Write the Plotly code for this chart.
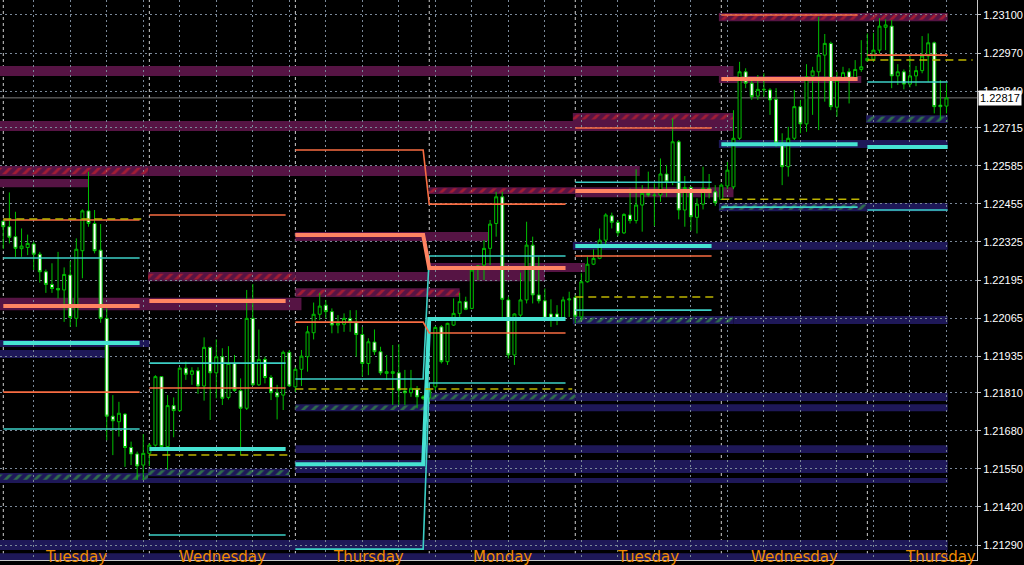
import plotly.graph_objects as go

# ---------------- data ----------------
bar_index = list(range(156))

open_ = [1.22396,1.22377,1.22343,1.22302,1.22306,1.22318,1.22283,1.22223,1.22180,1.22166,
1.22161,1.22212,1.22064,1.22295,1.22431,1.22388,1.22297,1.22064,1.21730,1.21711,
1.21737,1.21623,1.21601,1.21563,1.21603,1.21631,1.21865,1.21626,1.21766,1.21749,
1.21894,1.21873,1.21885,1.21833,1.21965,1.21878,1.21933,1.21794,1.21910,1.21817,
1.21757,1.22064,1.21837,1.21924,1.21862,1.21810,1.21802,1.21948,1.21830,1.21890,
1.21933,1.22015,1.22078,1.22109,1.22087,1.22041,1.22044,1.22064,1.22049,1.22009,
1.21910,1.21983,1.21950,1.21876,1.21876,1.21878,1.21816,1.21810,1.21822,1.21796,
1.21792,1.21830,1.22035,1.21916,1.22041,1.22081,1.22121,1.22098,1.22238,1.22246,
1.22303,1.22388,1.22479,1.22127,1.21939,1.22075,1.22127,1.22314,1.22144,1.22124,
1.22079,1.22079,1.22064,1.22127,1.22135,1.22069,1.22189,1.22249,1.22269,1.22331,
1.22414,1.22392,1.22356,1.22417,1.22398,1.22451,1.22491,1.22485,1.22485,1.22557,
1.22530,1.22667,1.22434,1.22511,1.22409,1.22454,1.22508,1.22496,1.22470,1.22516,
1.22513,1.22679,1.22906,1.22867,1.22823,1.22844,1.22844,1.22812,1.22663,1.22582,
1.22679,1.22787,1.22728,1.22892,1.22906,1.22963,1.23003,1.22785,1.22880,1.22906,
1.22880,1.22914,1.22944,1.22949,1.22980,1.23058,1.23062,1.22892,1.22906,1.22864,
1.22892,1.22910,1.22960,1.23005,1.22792,1.22789]

high_ = [1.22400,1.22494,1.22428,1.22371,1.22350,1.22326,1.22291,1.22231,1.22252,1.22291,
1.22238,1.22260,1.22337,1.22436,1.22565,1.22434,1.22386,1.22098,1.21802,1.21779,
1.21740,1.21643,1.21609,1.21669,1.21638,1.21870,1.21867,1.21802,1.21794,1.21897,
1.21916,1.21897,1.21897,1.21999,1.21967,1.21992,1.21962,1.21969,1.21939,1.21859,
1.22161,1.22181,1.22026,1.21933,1.21870,1.21837,1.21954,1.21956,1.21897,1.21956,
1.22038,1.22118,1.22151,1.22127,1.22098,1.22075,1.22081,1.22092,1.22092,1.22035,
1.21996,1.22026,1.21967,1.21939,1.21973,1.21976,1.21888,1.21888,1.21833,1.21802,
1.21843,1.22038,1.22041,1.22049,1.22132,1.22151,1.22138,1.22235,1.22246,1.22331,
1.22400,1.22496,1.22496,1.22138,1.22081,1.22220,1.22394,1.22343,1.22274,1.22166,
1.22129,1.22109,1.22138,1.22155,1.22144,1.22218,1.22274,1.22300,1.22371,1.22423,
1.22425,1.22400,1.22423,1.22508,1.22573,1.22519,1.22565,1.22525,1.22610,1.22588,
1.22747,1.22673,1.22550,1.22516,1.22474,1.22582,1.22557,1.22519,1.22525,1.22598,
1.22775,1.22940,1.22918,1.22884,1.22895,1.22901,1.22850,1.22850,1.22696,1.22718,
1.22844,1.22810,1.22932,1.22923,1.23094,1.23035,1.23009,1.22906,1.22923,1.22918,
1.22946,1.23014,1.23037,1.23039,1.23089,1.23085,1.23083,1.22932,1.22914,1.22963,
1.22926,1.23028,1.23037,1.23009,1.22878,1.22867]

low_ = [1.22301,1.22320,1.22274,1.22274,1.22280,1.22229,1.22186,1.22151,1.22151,1.22132,
1.22052,1.22035,1.22035,1.22201,1.22377,1.22286,1.22049,1.21648,1.21597,1.21660,
1.21557,1.21563,1.21512,1.21512,1.21560,1.21626,1.21620,1.21546,1.21658,1.21745,
1.21854,1.21837,1.21806,1.21783,1.21717,1.21791,1.21768,1.21787,1.21813,1.21597,
1.21751,1.21833,1.21833,1.21842,1.21785,1.21719,1.21751,1.21830,1.21813,1.21833,
1.21882,1.21992,1.22058,1.22064,1.22013,1.22013,1.22018,1.22018,1.21933,1.21865,
1.21870,1.21939,1.21870,1.21854,1.21768,1.21768,1.21768,1.21796,1.21757,1.21785,
1.21778,1.21819,1.21910,1.21905,1.22038,1.22069,1.22092,1.22095,1.22195,1.22195,
1.22246,1.22343,1.22069,1.21927,1.21905,1.22069,1.22115,1.22115,1.22115,1.22058,
1.22035,1.22041,1.22058,1.22069,1.22047,1.22058,1.22186,1.22246,1.22266,1.22318,
1.22371,1.22345,1.22352,1.22388,1.22388,1.22360,1.22479,1.22379,1.22462,1.22479,
1.22519,1.22402,1.22377,1.22363,1.22354,1.22436,1.22474,1.22448,1.22468,1.22506,
1.22505,1.22673,1.22850,1.22810,1.22810,1.22821,1.22759,1.22650,1.22519,1.22548,
1.22673,1.22696,1.22701,1.22759,1.22707,1.22804,1.22775,1.22753,1.22878,1.22798,
1.22878,1.22906,1.22940,1.22940,1.22969,1.22980,1.22850,1.22861,1.22846,1.22853,
1.22857,1.22901,1.22872,1.22764,1.22741,1.22764]

close_ = [1.22377,1.22341,1.22303,1.22311,1.22320,1.22283,1.22223,1.22180,1.22166,1.22161,
1.22214,1.22067,1.22300,1.22431,1.22388,1.22295,1.22064,1.21730,1.21714,1.21740,
1.21623,1.21601,1.21560,1.21603,1.21631,1.21865,1.21626,1.21766,1.21749,1.21894,
1.21873,1.21885,1.21833,1.21965,1.21878,1.21933,1.21791,1.21910,1.21818,1.21757,
1.22064,1.21837,1.21924,1.21862,1.21810,1.21796,1.21948,1.21833,1.21890,1.21935,
1.22018,1.22078,1.22106,1.22087,1.22041,1.22047,1.22064,1.22052,1.22009,1.21910,
1.21984,1.21950,1.21878,1.21882,1.21882,1.21819,1.21810,1.21825,1.21796,1.21791,
1.21819,1.22033,1.21916,1.22047,1.22081,1.22121,1.22095,1.22229,1.22243,1.22303,
1.22386,1.22479,1.22129,1.21939,1.22079,1.22127,1.22314,1.22144,1.22124,1.22064,
1.22064,1.22064,1.22127,1.22130,1.22071,1.22189,1.22249,1.22269,1.22331,1.22417,
1.22392,1.22356,1.22419,1.22398,1.22451,1.22491,1.22485,1.22484,1.22557,1.22530,
1.22667,1.22434,1.22511,1.22411,1.22454,1.22508,1.22496,1.22459,1.22519,1.22570,
1.22679,1.22906,1.22867,1.22821,1.22846,1.22846,1.22810,1.22663,1.22582,1.22679,
1.22787,1.22728,1.22889,1.22909,1.22963,1.23003,1.22787,1.22878,1.22903,1.22880,
1.22914,1.22923,1.22952,1.22980,1.23062,1.23066,1.22892,1.22906,1.22864,1.22892,
1.22910,1.22960,1.23005,1.22787,1.22787,1.22817]

last_price = 1.22817

tick_values = [1.23100,1.22970,1.22840,1.22715,1.22585,1.22455,1.22325,1.22195,
               1.22065,1.21935,1.21810,1.21680,1.21550,1.21420,1.21290]
tick_labels = [f"{v:.5f}" for v in tick_values]

day_names = ["Tuesday","Wednesday","Thursday","Monday","Tuesday","Wednesday","Thursday"]
day_start = [0, 24, 48, 70, 94, 118, 142]

# daily levels (None = not drawn)
thick_orange   = [1.22106,1.22123,1.22349,1.22236,1.22499,1.22881,None]
thick_cyan     = [1.21980,1.21618,1.21566,1.22062,1.22311,1.22659,1.22649]
thin_orange_hi = [1.22400,1.22417,1.22639,1.22454,1.22714,1.23100,1.22963]
thin_orange_lo = [1.21812,1.21826,1.22051,1.22014,1.22277,None,None]
thin_cyan_hi   = [1.22270,1.21911,1.21857,1.22277,1.22529,None,1.22871]
thin_cyan_lo   = [1.21686,1.21324,1.21276,1.21843,1.22092,1.22444,1.22434]
yellow_level   = [1.22403,1.21597,1.21823,1.21823,1.22137,1.22471,1.22946]

# zones: low, high, from bar, to bar, kind (R = resistance, S = support), hatched
zone_lo   = [1.23079,1.22892,1.22868,1.22738,1.22704,1.22550,1.22550,1.22512,1.22489,1.22478,
             1.22328,1.22222,1.22191,1.22191,1.22137,1.22092,
             1.22731,1.22646,1.22430,1.22430,1.22298,1.22045,1.22045,1.21966,1.21929,
             1.21782,1.21782,1.21747,1.21747,1.21604,1.21536,1.21508,1.21525,1.21502,1.21273,1.21239]
zone_hi   = [1.23107,1.22926,1.22892,1.22765,1.22738,1.22584,1.22584,1.22540,1.22512,1.22512,
             1.22359,1.22253,1.22222,1.22222,1.22167,1.22134,
             1.22758,1.22673,1.22458,1.22458,1.22325,1.22072,1.22072,1.21990,1.21956,
             1.21809,1.21809,1.21771,1.21771,1.21631,1.21580,1.21536,1.21550,1.21519,1.21307,1.21262]
zone_from = [117.6,-1,117.6,93.6,-1,-1,23.8,-1,70,94,
             48,70,23.8,48,48,-1,
             141.8,117.6,117.6,141.8,93.6,93.6,120,-1,-1,
             70,94,48,70,48,48,-1,23.8,-1,-1,-1]
zone_to   = [155.2,120,141,120,120,23.8,104.6,14,94,120,
             80,95.6,48,89,75,49,
             155.2,155.2,141.8,155.2,155.2,120,155.2,24,16.7,
             94,155.2,70,155.2,155.2,155.2,23.8,47,155.2,155.2,155.2]
zone_kind = ["R"]*16 + ["S"]*20
zone_hatch = [True,False,False,True,False,True,False,False,True,False,
              False,False,True,False,True,False,
              True,False,True,False,False,True,False,False,False,
              True,False,True,False,False,False,True,True,False,False,False]

# ---------------- figure ----------------
PURPLE = "#561444"
NAVY = "#1e1858"
last_bar = bar_index[-1]
x_range = [-0.542, 160.02]

fig = go.Figure()
shapes = []
for lo, hi, a, b, k in zip(zone_lo, zone_hi, zone_from, zone_to, zone_kind):
    shapes.append(dict(type="rect", xref="x", yref="y", x0=a, x1=b, y0=lo, y1=hi,
                       fillcolor=PURPLE if k == "R" else NAVY, line=dict(width=0), layer="below"))

# day separators
for s in day_start:
    shapes.append(dict(type="line", xref="x", yref="paper", x0=s, x1=s, y0=0, y1=1,
                       line=dict(color="#cfcfcf", width=1, dash="3px,3px"), layer="between"))
# bid line
shapes.append(dict(type="line", xref="paper", yref="y", x0=0, x1=1, y0=last_price, y1=last_price,
                   line=dict(color="#7a7a7a", width=1), layer="between"))

# hatching of zones
for kind, fg in (("R", "#ee2424"), ("S", "#40c440")):
    idx = [i for i in range(len(zone_lo)) if zone_hatch[i] and zone_kind[i] == kind]
    fig.add_trace(go.Bar(
        orientation="h",
        y=[(zone_lo[i] + zone_hi[i]) / 2 for i in idx],
        x=[zone_to[i] - zone_from[i] for i in idx],
        base=[zone_from[i] for i in idx],
        width=[(zone_hi[i] - zone_lo[i]) * 0.65 for i in idx],
        marker=dict(color="rgba(0,0,0,0)", line=dict(width=0),
                    pattern=dict(shape="/", fgcolor=fg, bgcolor="rgba(0,0,0,0)", size=7, solidity=0.4)),
        hoverinfo="skip", showlegend=False))

fig.add_trace(go.Candlestick(
    x=bar_index, open=open_, high=high_, low=low_, close=close_,
    increasing=dict(line=dict(color="#00c000", width=1), fillcolor="#000000"),
    decreasing=dict(line=dict(color="#00c000", width=1), fillcolor="#ffffff"),
    whiskerwidth=0, hoverinfo="skip", showlegend=False))


def level_path(vals, yellow=False):
    xs, ys = [], []
    n = len(vals)
    for i, v in enumerate(vals):
        if v is None:
            continue
        s = day_start[i]
        if i == n - 1:
            e = last_bar + (4.3 if yellow else 0.2)
        elif yellow:
            e = day_start[i + 1] - 0.5
        else:
            e = s + 22.4
        # Thursday (short day) joins Monday directly
        if day_names[i] == "Thursday" and i + 1 < n and day_names[i + 1] == "Monday" and vals[i + 1] is not None:
            xs += [s, day_start[i + 1] - 1]
            ys += [v, v]
            continue
        xs += [s, e, None]
        ys += [v, v, None]
    return xs, ys


line_specs = [
    (thin_cyan_hi, "#3ccfc6", 1.6, None),
    (thin_cyan_lo, "#3ccfc6", 1.6, None),
    (thick_cyan, "#46e2d2", 4, None),
    (thin_orange_hi, "#f86c42", 1.6, None),
    (thin_orange_lo, "#f86c42", 1.6, None),
    (thick_orange, "#ff8462", 4, None),
    (yellow_level, "#bdb400", 1.5, "8px,5px"),
]
for vals, col, w, dash in line_specs:
    xs, ys = level_path(vals, yellow=dash is not None)
    fig.add_trace(go.Scatter(x=xs, y=ys, mode="lines",
                             line=dict(color=col, width=w, dash=dash) if dash else dict(color=col, width=w),
                             hoverinfo="skip", showlegend=False, connectgaps=False))

annotations = []
for name, s in zip(day_names, day_start):
    annotations.append(dict(x=s + 12, y=0, xref="x", yref="paper", text=name, showarrow=False,
                            xanchor="center", yanchor="bottom", yshift=-8,
                            font=dict(family="DejaVu Sans", size=15, color="#f08c00")))
annotations.append(dict(x=1, y=last_price, xref="paper", yref="y", text=f"{last_price:.5f}",
                        showarrow=False, xanchor="left", yanchor="middle", xshift=1,
                        bgcolor="#ffffff", borderpad=1,
                        font=dict(family="Liberation Sans", size=11, color="#000000")))

fig.update_layout(
    width=1024, height=565,
    margin=dict(l=0, r=47, t=0, b=5, pad=0, autoexpand=False),
    paper_bgcolor="#000000", plot_bgcolor="#000000",
    showlegend=False, barmode="overlay",
    shapes=shapes, annotations=annotations,
    xaxis=dict(range=x_range, rangeslider=dict(visible=False), showticklabels=False,
               tickvals=list(range(5, 160, 6)), ticks="", showgrid=True, automargin=False,
               gridcolor="#7a8898", griddash="2px,3px", gridwidth=1, zeroline=False,
               showline=True, linecolor="#c8c8c8", linewidth=1, fixedrange=True),
    yaxis=dict(range=[1.212388, 1.231512], side="right", tickvals=tick_values, ticktext=tick_labels,
               showgrid=True, gridcolor="#7a8898", griddash="2px,3px", gridwidth=1, zeroline=False,
               automargin=False,
               showline=True, linecolor="#c8c8c8", linewidth=1, ticks="outside", ticklen=3,
               tickcolor="#c8c8c8", tickfont=dict(family="Liberation Sans", size=11, color="#ffffff")),
)

fig.write_html("out.html", config={"displayModeBar": False},
               post_script="document.body.style.margin='0px';document.body.style.overflow='hidden';"
                           "document.body.style.background='#000000';")
